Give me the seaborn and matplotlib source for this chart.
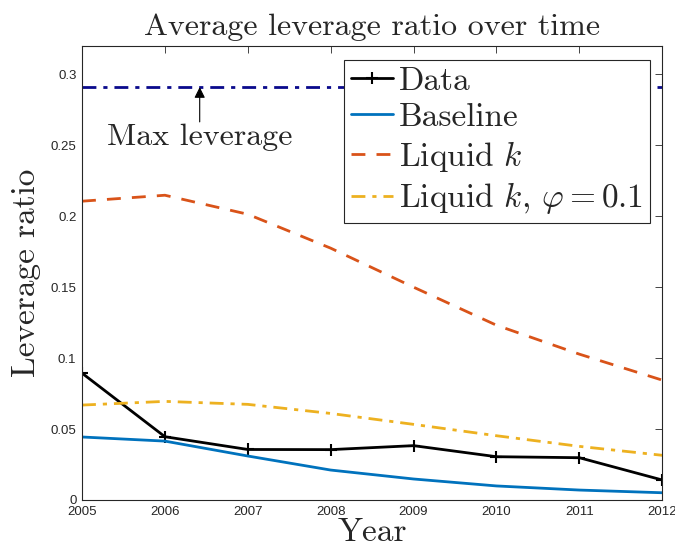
import pandas as pd
import matplotlib
matplotlib.use("Agg")
import matplotlib.pyplot as plt
import seaborn as sns

# --- DATA ---
years = [2005, 2006, 2007, 2008, 2009, 2010, 2011, 2012]
data_lev = [0.0894, 0.0446, 0.0356, 0.0355, 0.0383, 0.0305, 0.0298, 0.0141]
baseline = [0.0444, 0.0415, 0.0310, 0.0211, 0.0148, 0.0099, 0.0070, 0.0051]
liquid_k = [0.2106, 0.2148, 0.2014, 0.1775, 0.1500, 0.1232, 0.1028, 0.0845]
liquid_k_phi = [0.0669, 0.0695, 0.0674, 0.0610, 0.0533, 0.0453, 0.0378, 0.0315]
max_leverage = 0.291

yticks = [0, 0.05, 0.1, 0.15, 0.2, 0.25, 0.3]
ytick_labels = ['0', '0.05', '0.1', '0.15', '0.2', '0.25', '0.3']

df = pd.DataFrame({'Year': years, 'Data': data_lev, 'Baseline': baseline,
                   'Liquid k': liquid_k, 'Liquid k phi': liquid_k_phi})

# --- STYLE ---
sns.set_style("white")
plt.rcParams['font.family'] = ['Liberation Sans', 'DejaVu Sans']
plt.rcParams['mathtext.fontset'] = 'cm'
SERIF = 'cmr10'

fig = plt.figure(figsize=(6.75, 5.54), dpi=100)
ax = fig.add_axes([0.1215, 0.0975, 0.8595, 0.8195])

sns.lineplot(data=df, x='Year', y='Data', ax=ax, color='black', lw=2,
             marker='+', markersize=8, mew=1.5, mec='black', label='Data')
sns.lineplot(data=df, x='Year', y='Baseline', ax=ax, color='#0072BD', lw=2,
             label='Baseline')
sns.lineplot(data=df, x='Year', y='Liquid k', ax=ax, color='#D95319', lw=2,
             label=r'Liquid $k$')
sns.lineplot(data=df, x='Year', y='Liquid k phi', ax=ax, color='#EDB120', lw=2,
             label=r'Liquid $k$, $\varphi = 0.1$')
lines = ax.get_lines()
lines[2].set_dashes([5, 4])
lines[3].set_dashes([5, 2.5, 1.5, 2.5])

# max leverage line with its label and arrow
ax.axhline(max_leverage, color='#0a0a8c', lw=2, dashes=[5, 2.5, 1.5, 2.5])
ax.text(2006.42, 0.2555, 'Max leverage', ha='center', va='center',
        fontsize=23, family=SERIF)
ax.annotate('', xy=(2006.42, max_leverage), xytext=(2006.42, 0.2665),
            arrowprops=dict(arrowstyle='-|>', color='black', lw=0.8,
                            mutation_scale=16, shrinkA=0, shrinkB=0))

ax.set_xlim(2005, 2012)
ax.set_ylim(0, 0.32)
ax.set_xticks(years)
ax.set_xticklabels([str(y) for y in years])
ax.set_yticks(yticks)
ax.set_yticklabels(ytick_labels)
ax.tick_params(direction='in', top=True, right=True, labelsize=9.5,
               colors='#262626', length=5, width=0.6, pad=4)
for s in ax.spines.values():
    s.set_color('#262626')
    s.set_linewidth(0.8)

ax.set_title('Average leverage ratio over time', family=SERIF, fontsize=23, pad=8)
ax.set_xlabel('Year', family=SERIF, fontsize=24, labelpad=0)
ax.set_ylabel('Leverage ratio', family=SERIF, fontsize=24, labelpad=7)

leg = ax.legend(loc='upper right', bbox_to_anchor=(0.979, 0.969),
                prop={'family': SERIF, 'size': 24}, frameon=True, fancybox=False,
                borderpad=0.2, labelspacing=0.2, handlelength=1.25,
                handletextpad=0.2, borderaxespad=0)
leg.get_frame().set_edgecolor('#262626')
leg.get_frame().set_linewidth(0.8)
leg.get_frame().set_alpha(1)

fig.savefig('out.png', dpi=100)
